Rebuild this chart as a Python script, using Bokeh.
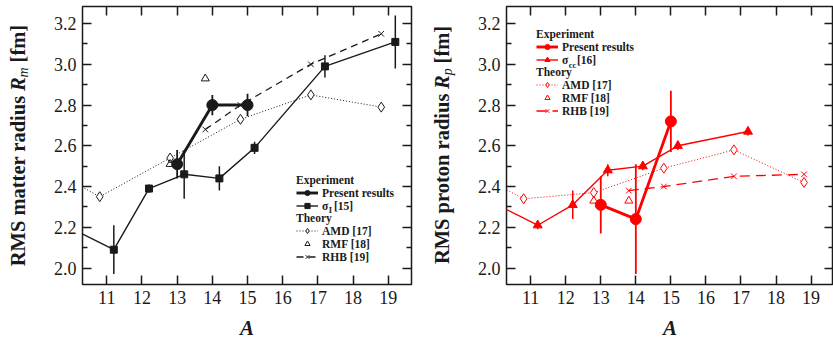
import math
from bokeh.plotting import figure
from bokeh.layouts import row
from bokeh.models import (Range1d, FixedTicker, Legend, LegendItem, Label,
                          LinearAxis, CustomJSTickFormatter, PrintfTickFormatter)
from bokeh.embed import file_html
from bokeh.resources import INLINE

# ---------------- data: left panel (matter radius Rm) ----------------
A_present = [13, 14, 15]
Rm_present = [2.51, 2.80, 2.80]
Rm_present_err = [0.07, 0.05, 0.055]

A_sigI = [8.2, 11.2, 12.2, 13.2, 14.2, 15.2, 17.2, 19.2]
Rm_sigI = [2.35, 2.09, 2.39, 2.46, 2.44, 2.59, 2.99, 3.11]
Rm_sigI_err = [0.03, 0.12, 0.02, 0.12, 0.06, 0.03, 0.055, 0.13]

A_amd = [8.8, 10.8, 12.8, 14.8, 16.8, 18.8]
Rm_amd = [2.54, 2.35, 2.54, 2.73, 2.85, 2.79]

A_rmf = [12.8, 13.8]
Rm_rmf = [2.51, 2.93]

A_rhb = [13.8, 14.8, 16.8, 18.8]
Rm_rhb = [2.68, 2.80, 3.00, 3.15]

# ---------------- data: right panel (proton radius Rp) ----------------
Rp_present = [2.31, 2.24, 2.72]
Rp_present_err = [0.14, 0.27, 0.15]

A_sigcc = [8.2, 11.2, 12.2, 13.2, 14.2, 15.2, 17.2]
Rp_sigcc = [2.47, 2.21, 2.31, 2.48, 2.50, 2.60, 2.67]
Rp_sigcc_err = [0.02, 0.02, 0.07, 0.03, 0.02, 0.02, 0.02]

Rp_amd = [2.52, 2.34, 2.37, 2.49, 2.58, 2.42]
Rp_rmf = [2.33, 2.33]
Rp_rhb = [2.38, 2.40, 2.45, 2.46]

X_TICKS = [11, 12, 13, 14, 15, 16, 17, 18, 19]
Y_TICKS = [2.0, 2.2, 2.4, 2.6, 2.8, 3.0, 3.2]
Y_MINOR = [2.1, 2.3, 2.5, 2.7, 2.9, 3.1]

# ---------------- layout / style ----------------
FONT = "Liberation Serif"
INK = "#1a1a1a"
RED = "#ff0000"
H = 342
Y0, Y1 = 1.919, 3.284
FRAME_TOP, FRAME_H = 6, 280
FRAME_BOT = FRAME_TOP + FRAME_H
LAB_W = 40
CFG_L = dict(width=376, left=42, right=5, x0=10.31, x1=19.66)
CFG_R = dict(width=377, left=50, right=0, x0=10.31, x1=19.64)


def px2data(cfg, sx, sy):
    fw = cfg["width"] - cfg["left"] - cfg["right"]
    x = cfg["x0"] + (sx - cfg["left"]) / fw * (cfg["x1"] - cfg["x0"])
    y = Y0 + (FRAME_BOT - sy) / FRAME_H * (Y1 - Y0)
    return x, y


def style_axis(ax, labels=True):
    ax.axis_line_color = None
    ax.major_tick_in = 9
    ax.major_tick_out = 0
    ax.minor_tick_in = 5
    ax.minor_tick_out = 0
    ax.major_tick_line_width = 1.5
    ax.minor_tick_line_width = 1.5
    ax.major_tick_line_color = INK
    ax.minor_tick_line_color = INK
    if labels:
        ax.major_label_text_font = FONT
        ax.major_label_text_font_size = "18px"
        ax.major_label_text_color = INK
        ax.major_label_standoff = 6
    else:
        ax.major_label_text_font_size = "0px"
        ax.major_label_standoff = 0


def make_fig(cfg):
    p = figure(width=cfg["width"], height=H,
               x_range=Range1d(cfg["x0"], cfg["x1"]), y_range=Range1d(Y0, Y1),
               output_backend="svg", toolbar_location=None,
               min_border_left=cfg["left"], min_border_right=cfg["right"],
               min_border_top=FRAME_TOP, min_border_bottom=H - FRAME_BOT)
    p.xgrid.visible = False
    p.ygrid.visible = False
    p.outline_line_color = INK
    p.outline_line_width = 1.5
    p.outline_line_alpha = 1.0
    xt = FixedTicker(ticks=X_TICKS)
    yt = FixedTicker(ticks=Y_TICKS, minor_ticks=Y_MINOR)
    p.xaxis.ticker = xt
    p.yaxis.ticker = yt
    p.yaxis.formatter = PrintfTickFormatter(format="%.1f")
    style_axis(p.xaxis[0])
    style_axis(p.yaxis[0])
    p.xaxis[0].minor_tick_in = 0
    p.xaxis.axis_label = "A"
    p.xaxis.axis_label_text_font = FONT
    p.xaxis.axis_label_text_font_style = "bold italic"
    p.xaxis.axis_label_text_font_size = "21px"
    p.xaxis.axis_label_text_color = INK
    p.xaxis.axis_label_standoff = 9
    top = LinearAxis(ticker=xt, formatter=CustomJSTickFormatter(code="return ''"))
    style_axis(top, labels=False)
    top.minor_tick_in = 0
    p.add_layout(top, "above")
    right = LinearAxis(ticker=yt, formatter=CustomJSTickFormatter(code="return ''"))
    style_axis(right, labels=False)
    p.add_layout(right, "right")
    return p


def label_fig(pieces):
    """Narrow strip holding the rotated, mixed-style y-axis title.
    Its frame is aligned with the neighbouring plot frame (rows align frames),
    so the y range is set up to map straight to page pixels.
    Each piece: (text, style, font px, centre x px, centre y px from top)."""
    f = figure(width=LAB_W, height=H, x_range=Range1d(0, LAB_W),
               y_range=Range1d(H - FRAME_BOT, H - FRAME_TOP),
               output_backend="svg", toolbar_location=None,
               x_axis_type=None, y_axis_type=None,
               min_border_left=0, min_border_right=0,
               min_border_top=FRAME_TOP, min_border_bottom=H - FRAME_BOT)
    f.outline_line_color = None
    f.xgrid.visible = False
    f.ygrid.visible = False
    for text, style, size, cx, cy in pieces:
        f.add_layout(Label(x=cx, y=H - cy, text=text, angle=math.pi / 2,
                           text_align="center", text_baseline="middle",
                           text_font=FONT, text_font_style=style,
                           text_font_size=f"{size}px", text_color=INK))
    return f


def style_legend(lg):
    lg.label_text_font = FONT
    lg.label_text_font_style = "bold"
    lg.label_text_font_size = "11.5px"
    lg.label_text_color = INK
    lg.title_text_font = FONT
    lg.title_text_font_style = "bold"
    lg.title_text_font_size = "11.5px"
    lg.title_text_color = INK
    lg.background_fill_alpha = 0
    lg.border_line_alpha = 0
    lg.padding = 0
    lg.margin = 0
    lg.spacing = 0
    lg.glyph_width = 22
    lg.glyph_height = 13
    lg.label_height = 13
    lg.label_standoff = 4
    lg.title_standoff = 0


def add_sub(p, cfg, text, sx, sy):
    x_d, y_d = px2data(cfg, sx, sy)
    p.add_layout(Label(x=x_d, y=y_d, text=text, text_align="left",
                       text_baseline="alphabetic", text_font=FONT,
                       text_font_style="bold", text_font_size="8.5px",
                       text_color=INK))


def panel(cfg, color, present_y, present_err, sig_x, sig_y, sig_err,
          sig_marker, sig_size, amd_y, rmf_y, rhb_y, sig_label, sig_sub,
          dash_rhb, leg_x, leg_y1, leg_y2):
    p = make_fig(cfg)
    # AMD
    l_amd = p.line(A_amd, amd_y, line_color=color, line_width=1, line_dash="1 2")
    s_amd = p.scatter(A_amd, amd_y, marker="diamond", size=10,
                      fill_color="white", line_color=color, line_width=1)
    # RMF
    s_rmf = p.scatter(A_rmf, rmf_y, marker="triangle", size=8,
                      fill_color=None, line_color=color, line_width=1)
    # RHB
    l_rhb = p.line(A_rhb, rhb_y, line_color=color, line_width=1.3, line_dash=dash_rhb)
    s_rhb = p.scatter(A_rhb, rhb_y, marker="x", size=8, line_color=color, line_width=1)
    # sigma data
    p.segment(x0=sig_x, y0=[v - e for v, e in zip(sig_y, sig_err)],
              x1=sig_x, y1=[v + e for v, e in zip(sig_y, sig_err)],
              line_color=color, line_width=1.5)
    l_sig = p.line(sig_x, sig_y, line_color=color, line_width=1.4)
    s_sig = p.scatter(sig_x, sig_y, marker=sig_marker, size=sig_size,
                      fill_color=color, line_color=color)
    # present results
    p.segment(x0=A_present, y0=[v - e for v, e in zip(present_y, present_err)],
              x1=A_present, y1=[v + e for v, e in zip(present_y, present_err)],
              line_color=color, line_width=1.8)
    l_pr = p.line(A_present, present_y, line_color=color, line_width=2.9)
    s_pr = p.scatter(A_present, present_y, marker="circle", size=11,
                     fill_color=color, line_color=color)

    lg1 = Legend(items=[LegendItem(label="Present results", renderers=[l_pr, s_pr]),
                        LegendItem(label=sig_label, renderers=[l_sig, s_sig])],
                 title="Experiment", location=(leg_x, leg_y1))
    lg2 = Legend(items=[LegendItem(label="AMD [17]", renderers=[l_amd, s_amd]),
                        LegendItem(label="RMF [18]", renderers=[s_rmf]),
                        LegendItem(label="RHB [19]", renderers=[l_rhb, s_rhb])],
                 title="Theory", location=(leg_x, leg_y2))
    for lg in (lg1, lg2):
        style_legend(lg)
        p.add_layout(lg)
    # subscript of sigma in legend
    text_x = cfg["left"] + leg_x + 22 + 4 + 6.3
    row2_center = FRAME_BOT - leg_y1 - 6.5
    add_sub(p, cfg, sig_sub, text_x, row2_center + 3.5)
    return p


NB = "\u00a0"
p1 = panel(CFG_L, INK, Rm_present, Rm_present_err, A_sigI, Rm_sigI, Rm_sigI_err,
           "square", 7, Rm_amd, Rm_rmf, Rm_rhb, "σ" + NB * 2 + "[15]", "I",
           "7 5", 214, 71.7, 20.7)

p2 = panel(CFG_R, RED, Rp_present, Rp_present_err, A_sigcc, Rp_sigcc, Rp_sigcc_err,
           "triangle", 9, Rp_amd, Rp_rmf, Rp_rhb, "σ" + NB * 3 + "[16]", "cc",
           "10 6", 30, 217.7, 166.7)

lab1 = label_fig([("RMS matter radius", "bold", 20.5, 17, 181.6),
                  ("R", "bold italic", 20.5, 17, 84.3),
                  ("m", "italic", 14, 23, 72.3),
                  ("[fm]", "bold", 20.5, 17, 43.4)])
lab2 = label_fig([("RMS proton radius", "bold", 20.5, 25, 179.6),
                  ("R", "bold italic", 20.5, 25, 82.2),
                  ("p", "italic", 14, 31, 71.8),
                  ("[fm]", "bold", 20.5, 25, 44.4)])

layout = row(lab1, p1, lab2, p2)
open("out.html", "w").write(file_html(layout, INLINE))
